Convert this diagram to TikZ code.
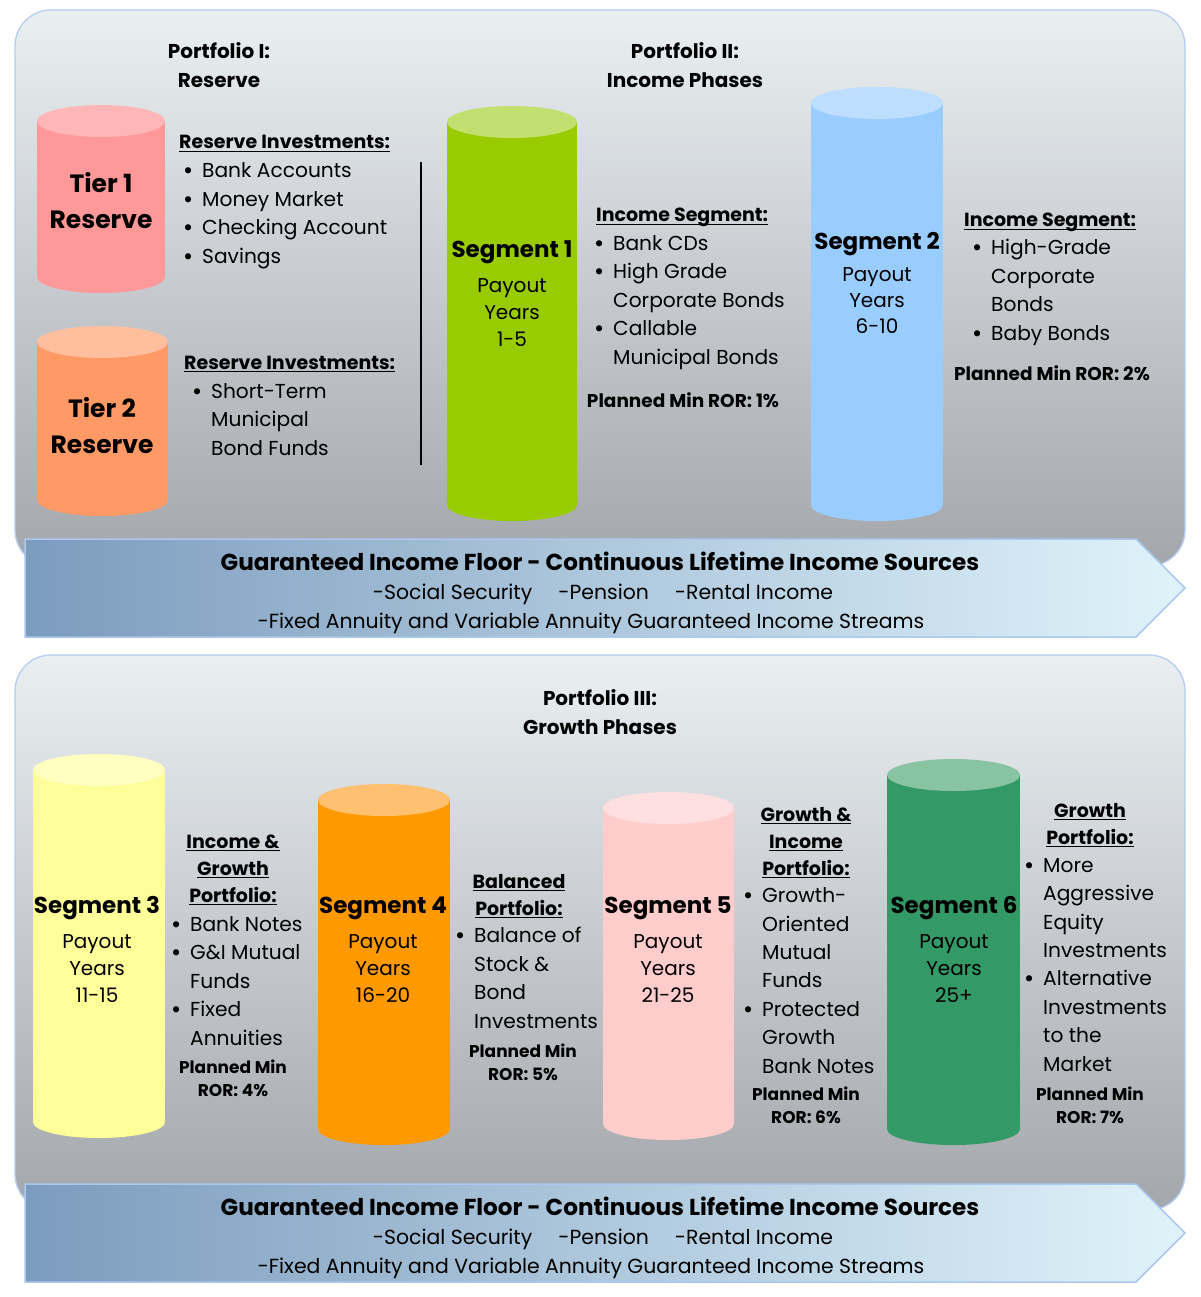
\documentclass[tikz,border=0pt]{standalone}
\usepackage{fontspec}
\setmainfont{Poppins}
\usepackage{tikz}
\definecolor{panetop}{RGB}{234,239,242}
\definecolor{panebot}{RGB}{163,166,171}
\definecolor{paneline}{RGB}{180,205,240}
\definecolor{bandleft}{RGB}{124,156,190}
\definecolor{bandright}{RGB}{224,243,250}
\definecolor{bandline}{RGB}{170,200,240}
\definecolor{tieronebody}{RGB}{255,153,153}
\definecolor{tieronelid}{RGB}{255,182,182}
\definecolor{tiertwobody}{RGB}{255,153,102}
\definecolor{tiertwolid}{RGB}{255,190,158}
\definecolor{segonebody}{RGB}{153,204,0}
\definecolor{segonelid}{RGB}{193,224,112}
\definecolor{segtwobody}{RGB}{153,204,255}
\definecolor{segtwolid}{RGB}{190,222,255}
\definecolor{segthreebody}{RGB}{255,255,153}
\definecolor{segthreelid}{RGB}{255,255,192}
\definecolor{segfourbody}{RGB}{255,153,0}
\definecolor{segfourlid}{RGB}{255,192,112}
\definecolor{segfivebody}{RGB}{255,204,204}
\definecolor{segfivelid}{RGB}{255,224,224}
\definecolor{segsixbody}{RGB}{51,153,102}
\definecolor{segsixlid}{RGB}{136,196,162}
\newcommand{\ulhd}[1]{\setbox0=\hbox{#1}\rlap{\rule[-3pt]{\wd0}{1.4pt}}\box0}
\newcommand{\bul}{\llap{{\bfseries\textbullet}\hspace{9pt}}}

\begin{document}
\begin{tikzpicture}[x=1pt,y=-1pt,
  every node/.style={inner sep=0pt,text=black},
  title/.style={font=\fontsize{20}{29}\selectfont\bfseries,align=center,anchor=base},
  tier/.style={font=\fontsize{25}{36}\selectfont\bfseries,align=center,anchor=base},
  seglabel/.style={font=\fontsize{23}{34}\selectfont\bfseries,anchor=base},
  payout/.style={font=\fontsize{20}{27}\selectfont,align=center,anchor=base},
  head/.style={font=\fontsize{19}{27}\selectfont\bfseries,align=left,anchor=base west},
  headc/.style={head,align=center,anchor=base},
  items/.style={font=\fontsize{20.2}{28.4}\selectfont,align=left,anchor=base west},
  ror/.style={font=\fontsize{17}{23}\selectfont\bfseries,align=center,anchor=base},
  rorwide/.style={ror,font=\fontsize{18.5}{23}\selectfont\bfseries},
  floorhead/.style={font=\fontsize{23.1}{29}\selectfont\bfseries,anchor=base},
  floortext/.style={font=\fontsize{20.4}{29}\selectfont,anchor=base}]
\fill[white] (0,0) rectangle (1200,1297);
\useasboundingbox (0,0) rectangle (1200,1297);

% panels
\shade[top color=panetop,bottom color=panebot,draw=paneline,line width=1.3pt,rounded corners=36pt]
  (15,10) rectangle (1185,566);
\shade[top color=panetop,bottom color=panebot,draw=paneline,line width=1.3pt,rounded corners=36pt]
  (15,655) rectangle (1185,1210);

% cylinders
\foreach \xl/\xr/\yt/\yb/\body/\lid in {
  37/165/121/277/tieronebody/tieronelid,
  37/168/342/500/tiertwobody/tiertwolid,
  447/577/122/505/segonebody/segonelid,
  811/943/103/505/segtwobody/segtwolid,
  33/165/770/1122/segthreebody/segthreelid,
  318/450/800/1129/segfourbody/segfourlid,
  603/734/808/1124/segfivebody/segfivelid,
  887/1020/775/1129/segsixbody/segsixlid}{
  \pgfmathsetmacro\cx{(\xl+\xr)/2}
  \pgfmathsetmacro\rx{(\xr-\xl)/2}
  \fill[\body] (\cx,\yb) ellipse [x radius=\rx pt,y radius=16pt];
  \fill[\body] (\xl,\yt) rectangle (\xr,\yb);
  \fill[\lid] (\cx,\yt) ellipse [x radius=\rx pt,y radius=16pt];
}

% Portfolio I
\node[title] (pfone) at (219,88) {Portfolio I:\\Reserve};
\node[tier] (tierone) at (101,229) {Tier 1\\Reserve};
\node[head] (resonehead) at (179,149) {\ulhd{Reserve Investments:}};
\node[items] (resone) at (202,263) {\bul Bank Accounts\\\bul Money Market\\\bul Checking Account\\\bul Savings};
\node[tier] (tiertwo) at (102,453) {Tier 2\\Reserve};
\node[head] (restwohead) at (184,369) {\ulhd{Reserve Investments:}};
\node[items] (restwo) at (211,455) {\bul Short-Term\\Municipal\\Bond Funds};
\draw[line width=2.2pt] (421,162) -- (421,465);

% Portfolio II
\node[title] (pftwo) at (685,88) {Portfolio II:\\Income Phases};
\node[seglabel] (segone) at (512,258) {Segment 1};
\node[payout] (payone) at (512,346) {Payout\\Years\\1-5};
\node[head] (inconehead) at (596,222) {\ulhd{Income Segment:}};
\node[items] (incone) at (613,364) {\bul Bank CDs\\\bul High Grade\\Corporate Bonds\\\bul Callable\\Municipal Bonds};
\node[rorwide] (rorone) at (683,407) {Planned Min ROR: 1\%};
\node[seglabel] (segtwo) at (877,250) {Segment 2};
\node[payout,font=\fontsize{20}{26}\selectfont] (paytwo) at (877,333) {Payout\\Years\\6-10};
\node[head] (inctwohead) at (964,227) {\ulhd{Income Segment:}};
\node[items] (inctwo) at (991,340) {\bul High-Grade\\Corporate\\Bonds\\\bul Baby Bonds};
\node[rorwide] (rortwo) at (1052,380) {Planned Min ROR: 2\%};

% Portfolio III
\node[title] (pfthree) at (600,734) {Portfolio III:\\Growth Phases};
\foreach \nm/\xc/\num/\yrs in {three/97/3/11-15,four/383/4/16-20,five/668/5/21-25,six/954/6/25+}{
  \node[seglabel] (seg\nm) at (\xc,913) {Segment \num};
  \node[payout] (pay\nm) at (\xc,1002) {Payout\\Years\\\yrs};
}
\node[headc] (igrhead) at (233,902) {\ulhd{Income \&}\\\ulhd{Growth}\\\ulhd{Portfolio:}};
\node[items] (igr) at (190,1045) {\bul Bank Notes\\\bul G\&I Mutual\\Funds\\\bul Fixed\\Annuities};
\node[ror] (rorthree) at (233,1096) {Planned Min\\ROR: 4\%};
\node[headc] (balhead) at (519,915) {\ulhd{Balanced}\\\ulhd{Portfolio:}};
\node[items] (bal) at (474,1028) {\bul Balance of\\Stock \&\\Bond\\Investments};
\node[ror] (rorfour) at (523,1080) {Planned Min\\ROR: 5\%};
\node[headc] (gnihead) at (806,875) {\ulhd{Growth \&}\\\ulhd{Income}\\\ulhd{Portfolio:}};
\node[items] (gni) at (762,1073) {\bul Growth-\\Oriented\\Mutual\\Funds\\\bul Protected\\Growth\\Bank Notes};
\node[ror] (rorfive) at (806,1123) {Planned Min\\ROR: 6\%};
\node[headc] (grohead) at (1090,844) {\ulhd{Growth}\\\ulhd{Portfolio:}};
\node[items] (gro) at (1043,1071) {\bul More\\Aggressive\\Equity\\Investments\\\bul Alternative\\Investments\\to the\\Market};
\node[ror] (rorsix) at (1090,1123) {Planned Min\\ROR: 7\%};

% income floor arrows
\foreach \dy/\nm in {0/one,645/two}{
  \shade[left color=bandleft,right color=bandright,draw=bandline,line width=1.5pt]
    (25,539+\dy) -- (1136,539+\dy) -- (1185,588+\dy) -- (1136,637+\dy) -- (25,637+\dy) -- cycle;
  \node[floorhead] (floor\nm) at (600,570+\dy) {Guaranteed Income Floor - Continuous Lifetime Income Sources};
  \node[floortext] (src\nm) at (603,599+\dy) {-Social Security\hspace{26pt}-Pension\hspace{26pt}-Rental Income};
  \node[floortext] (ann\nm) at (591,628+\dy) {-Fixed Annuity and Variable Annuity Guaranteed Income Streams};
}
\end{tikzpicture}
\end{document}
